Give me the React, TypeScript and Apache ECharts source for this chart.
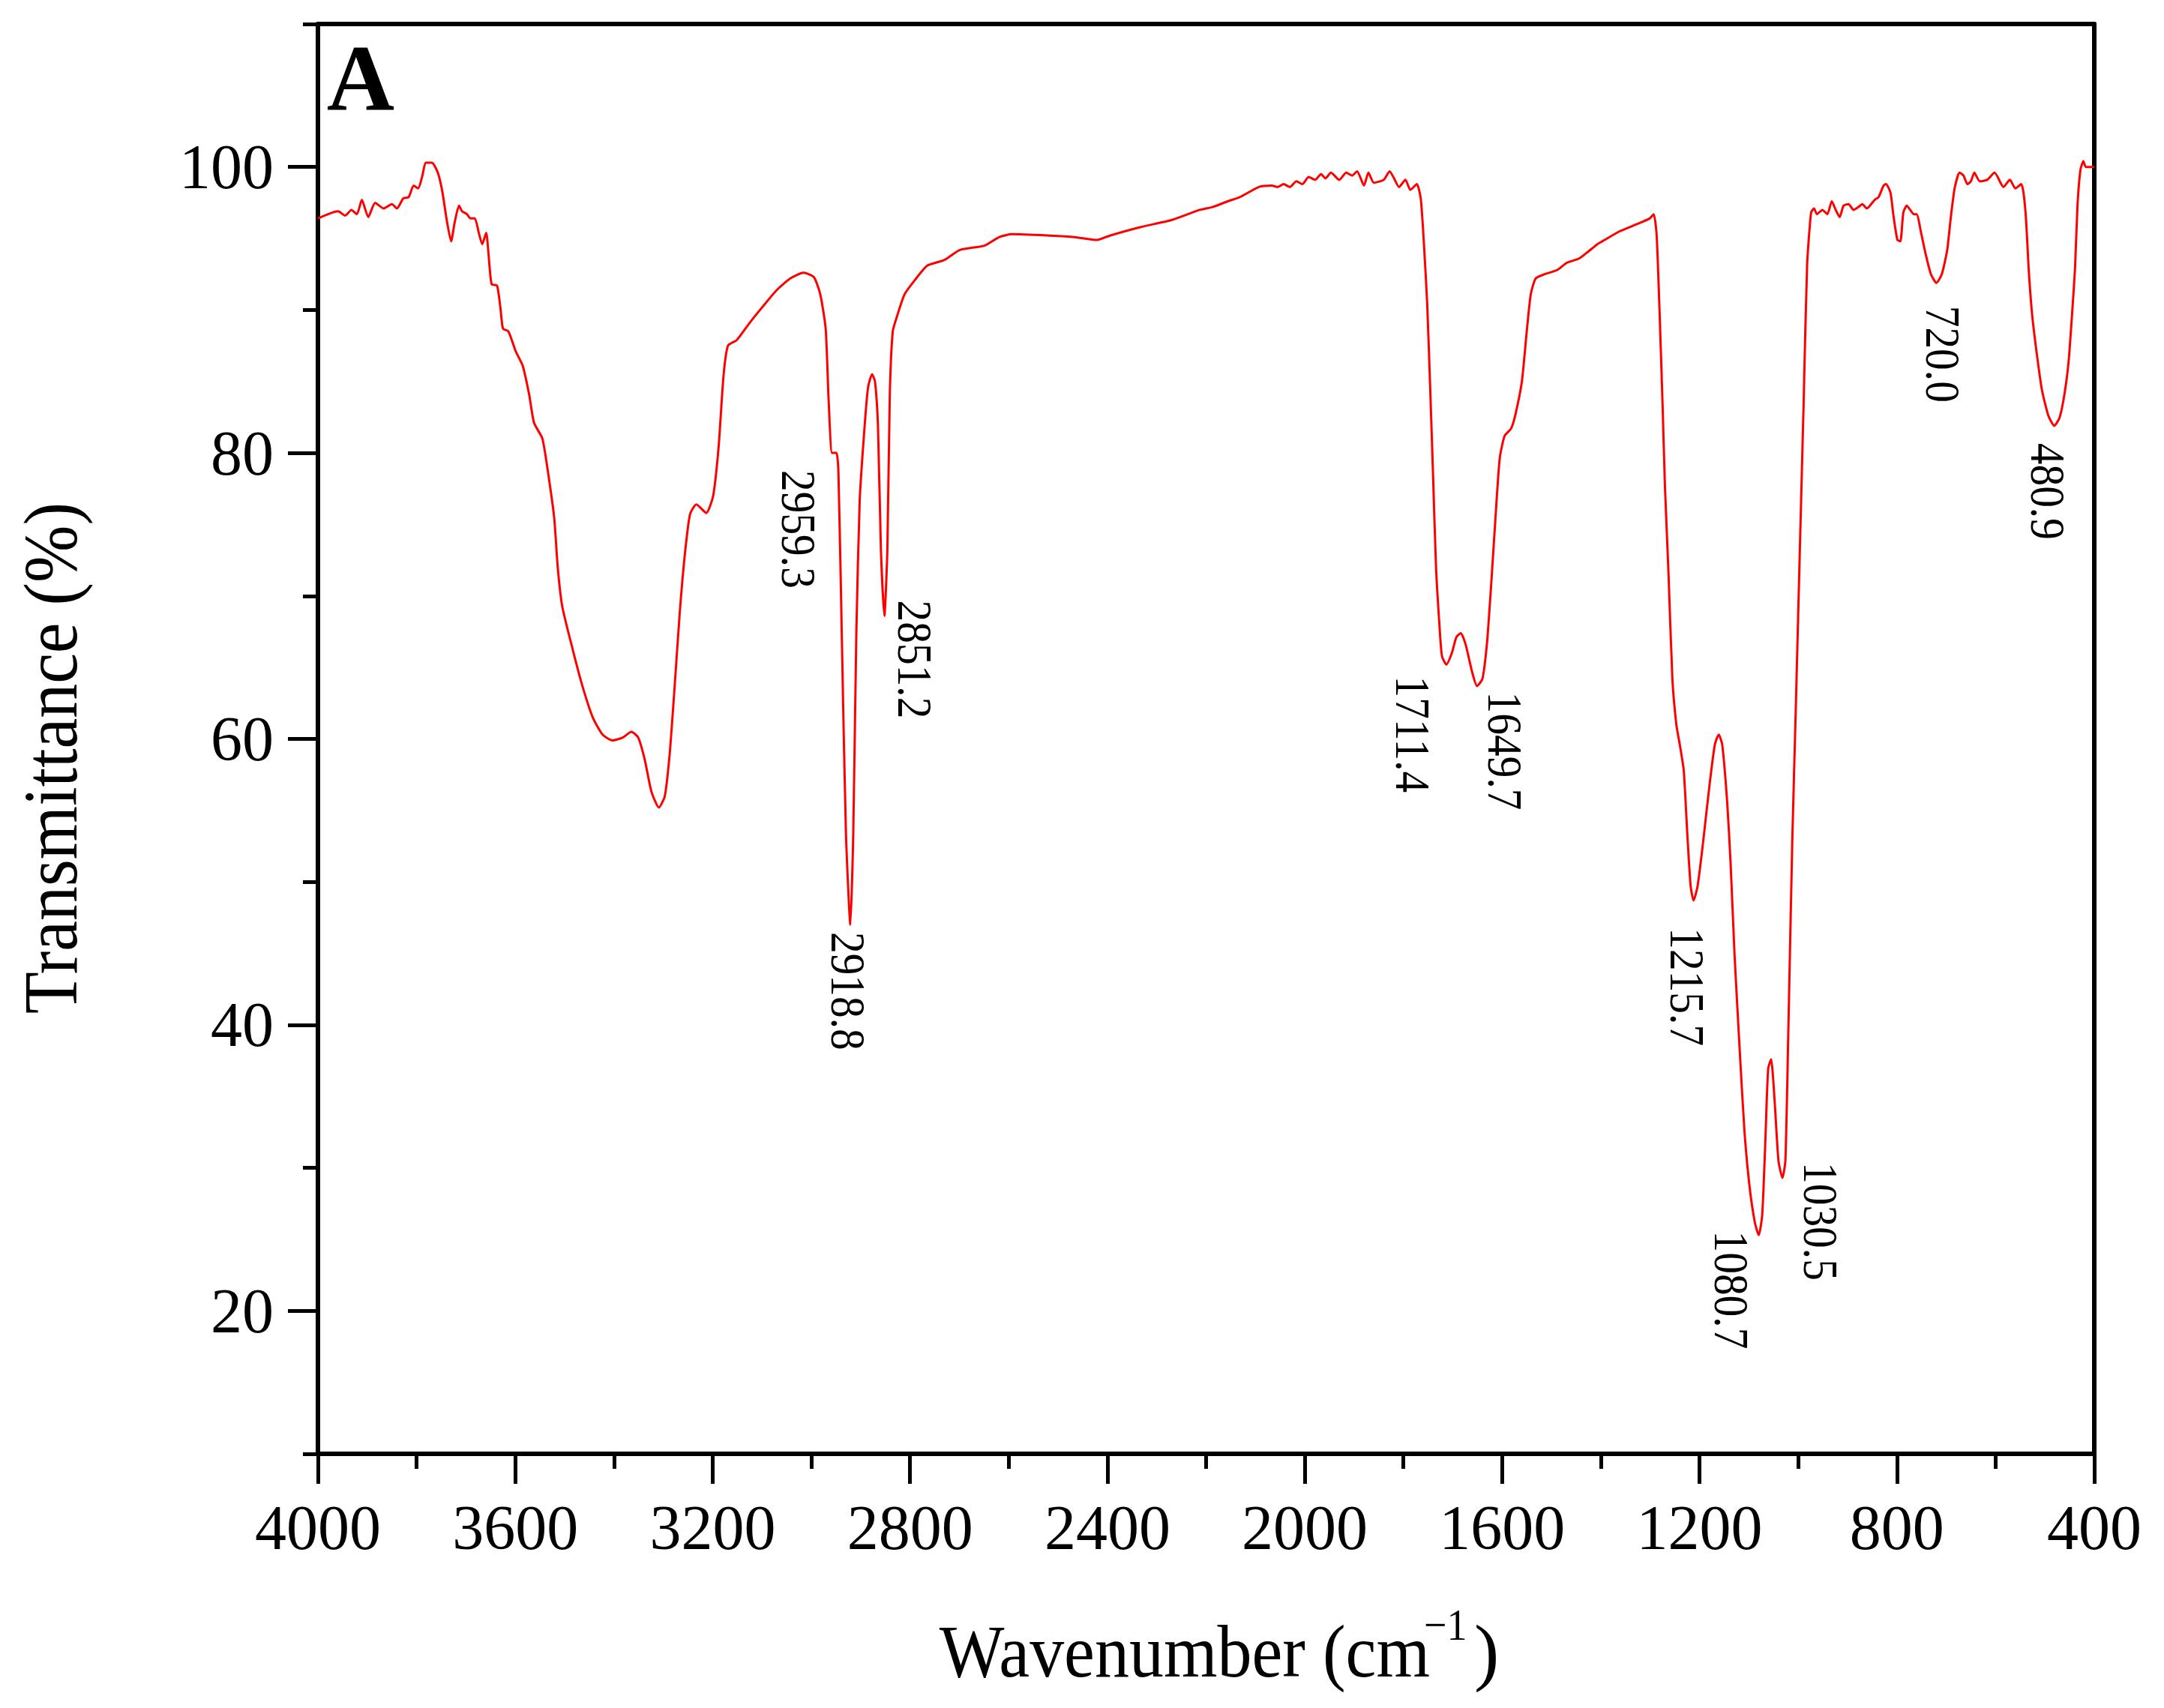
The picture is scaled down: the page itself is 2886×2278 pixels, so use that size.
import React, { useEffect, useRef } from "react";
import * as echarts from "echarts";

const FONT = "'Liberation Serif', 'Times New Roman', serif";

// Wavenumber (cm-1), high to low
const wavenumbers = [
  4000, 3959, 3945, 3932, 3921, 3911, 3898, 3884, 3867, 3850, 3840, 3827, 3816, 3806, 3797, 3789,
  3781, 3769, 3757, 3748, 3739, 3730, 3723, 3714, 3708, 3698, 3691, 3682, 3674, 3667, 3659, 3654,
  3648, 3637, 3630, 3625, 3614, 3599, 3585, 3572, 3562, 3545, 3531, 3521, 3514, 3505, 3484, 3464,
  3443, 3423, 3403, 3382, 3365, 3351, 3338, 3324, 3309, 3297, 3287, 3277, 3267, 3257, 3246, 3233,
  3213, 3199, 3188, 3178, 3169, 3151, 3125, 3097, 3070, 3043, 3016, 2995, 2982, 2971, 2965, 2958,
  2949, 2945, 2938, 2930, 2921, 2915, 2909, 2902, 2892, 2885, 2877, 2871, 2865, 2859, 2852, 2846,
  2841, 2835, 2826, 2811, 2790, 2765, 2730, 2699, 2649, 2619, 2593, 2517, 2467, 2421, 2395, 2332,
  2269, 2213, 2187, 2156, 2131, 2093, 2067, 2055, 2043, 2030, 2017, 2005, 1992, 1979, 1967, 1958,
  1947, 1930, 1916, 1904, 1894, 1880, 1871, 1860, 1840, 1828, 1819, 1809, 1796, 1786, 1773, 1765,
  1759, 1752, 1746, 1740, 1734, 1727, 1722, 1713, 1702, 1693, 1684, 1674, 1661, 1651, 1640, 1631,
  1623, 1614, 1605, 1595, 1582, 1573, 1560, 1551, 1542, 1532, 1514, 1488, 1469, 1444, 1425, 1407,
  1397, 1362, 1327, 1301, 1293, 1287, 1281, 1275, 1270, 1263, 1255, 1247, 1240, 1232, 1225, 1218,
  1212, 1204, 1194, 1180, 1169, 1161, 1154, 1144, 1137, 1129, 1119, 1109, 1099, 1088, 1080, 1073,
  1067, 1061, 1055, 1048, 1040, 1032, 1026, 1020, 1012, 1005, 997, 989, 982, 974, 968, 962,
  951, 941, 932, 924, 916, 908, 898, 888, 878, 870, 861, 845, 837, 827, 822, 813,
  807, 799, 793, 787, 780, 773, 766, 760, 751, 741, 731, 720, 709, 698, 691, 683,
  673, 665, 657, 650, 643, 632, 617, 602, 584, 571, 560, 548, 543, 538, 533, 526,
  516, 506, 493, 481, 470, 460, 452, 445, 439, 434, 428, 422, 417, 400,
];

// Transmittance (%), one value per wavenumber above
const transmittance = [
  96.4, 96.9, 96.6, 97.0, 96.7, 97.7, 96.5, 97.5, 97.1, 97.4, 97.1, 97.8, 97.9, 98.7, 98.5, 99.3,
  100.3, 100.3, 99.6, 98.3, 96.3, 94.8, 96.1, 97.3, 96.9, 96.7, 96.4, 96.4, 95.4, 94.6, 95.4, 93.8,
  91.8, 91.7, 90.1, 88.7, 88.5, 87.1, 86.1, 84.1, 82.1, 81.0, 78.0, 75.4, 72.0, 69.3, 66.3, 63.7,
  61.5, 60.3, 59.9, 60.1, 60.5, 60.1, 58.6, 56.3, 55.2, 56.0, 59.0, 63.7, 68.7, 72.7, 75.7, 76.4,
  75.8, 77.0, 80.4, 85.4, 87.5, 87.9, 89.1, 90.3, 91.4, 92.2, 92.6, 92.3, 91.1, 88.7, 83.7, 80.0,
  80.0, 78.5, 66.7, 53.5, 47.0, 53.5, 67.1, 76.7, 81.9, 84.6, 85.5, 85.0, 81.9, 73.2, 68.6, 73.2,
  84.1, 88.5, 89.6, 91.1, 92.1, 93.1, 93.5, 94.2, 94.5, 95.1, 95.3, 95.2, 95.1, 94.9, 95.2, 95.8,
  96.3, 97.0, 97.2, 97.6, 97.9, 98.6, 98.7, 98.6, 98.8, 98.6, 99.0, 98.8, 99.3, 99.1, 99.5, 99.2,
  99.6, 99.1, 99.6, 99.4, 99.7, 98.7, 99.6, 98.9, 99.1, 99.7, 99.2, 98.6, 99.1, 98.4, 98.8, 97.8,
  94.9, 90.5, 84.7, 78.4, 72.0, 67.9, 65.8, 65.2, 66.0, 67.1, 67.4, 66.6, 64.7, 63.7, 64.2, 66.6,
  70.4, 75.2, 79.6, 81.2, 81.7, 82.7, 85.0, 88.2, 91.1, 92.2, 92.5, 92.8, 93.3, 93.6, 94.1, 94.6,
  94.8, 95.5, 96.0, 96.4, 96.7, 95.3, 89.9, 83.5, 77.6, 71.7, 64.2, 61.0, 59.6, 57.8, 53.5, 49.7,
  48.7, 49.7, 52.4, 56.7, 59.6, 60.3, 59.6, 55.6, 51.3, 44.9, 38.5, 32.6, 28.8, 26.2, 25.3, 26.7,
  31.5, 36.9, 37.6, 34.8, 30.5, 29.3, 30.5, 39.6, 52.9, 62.0, 72.8, 83.5, 93.1, 96.8, 97.1, 96.7,
  97.0, 96.7, 97.6, 97.0, 96.5, 97.3, 97.4, 97.0, 97.2, 97.4, 97.1, 97.7, 97.9, 98.7, 98.8, 98.2,
  96.6, 94.9, 94.8, 96.8, 97.3, 97.0, 96.7, 96.7, 95.4, 93.8, 92.5, 91.9, 92.5, 94.2, 96.4, 98.5,
  99.6, 99.4, 98.8, 99.0, 99.6, 99.0, 99.1, 99.6, 98.6, 99.1, 98.5, 98.8, 98.1, 96.2, 92.9, 89.7,
  86.8, 84.4, 82.6, 81.9, 82.5, 84.2, 86.4, 89.7, 92.9, 97.3, 99.8, 100.4, 100.0, 100.0,
];

// Peak annotations and where each label starts (data coordinates)
const peakLabels = ["2959.3", "2918.8", "2851.2", "1711.4", "1649.7", "1215.7", "1080.7", "1030.5", "720.0", "480.9"];
const labelAnchorW = [3025, 2925, 2790, 1781, 1594, 1224, 1135, 954, 707, 494];
const labelAnchorT = [78.8, 46.5, 69.7, 64.4, 63.3, 46.8, 25.6, 30.4, 90.3, 80.7];

// Axis ticks
const yLabelValues = [20, 40, 60, 80, 100];
const xMin = 400;
const xMax = 4000;
const xStep = 400;
const yMin = 10;
const yMax = 110;
const yStep = 10;

export default function App() {
  const ref = useRef<HTMLDivElement>(null);

  useEffect(() => {
    document.body.style.margin = "0";
    const chart = echarts.init(ref.current as HTMLDivElement, null, { renderer: "svg" });
    const black = { color: "#000", width: 6 };
    const tickStyle = { color: "#000", width: 5 };

    const renderLabel = (params: any, api: any) => {
      const p = api.coord([api.value(0), api.value(1)]);
      return {
        type: "text",
        x: p[0],
        y: p[1],
        rotation: -Math.PI / 2,
        scaleX: 0.87,
        style: {
          text: peakLabels[params.dataIndex],
          fontSize: 66,
          fontFamily: FONT,
          fill: "#000",
          align: "left",
          verticalAlign: "middle",
          textAlign: "left",
          textVerticalAlign: "middle",
        },
      };
    };

    chart.setOption({
      animation: false,
      backgroundColor: "#ffffff",
      grid: { left: 424, top: 32, width: 2369, height: 1907, containLabel: false },
      xAxis: [
        {
          type: "value",
          min: xMin,
          max: xMax,
          interval: xStep,
          inverse: true,
          position: "bottom",
          axisLine: { show: true, onZero: false, lineStyle: black },
          axisTick: { show: true, length: 40, lineStyle: tickStyle },
          minorTick: { show: true, splitNumber: 2, length: 20, lineStyle: tickStyle },
          axisLabel: {
            show: true,
            margin: 56,
            fontSize: 84,
            fontFamily: FONT,
            color: "#000",
            showMinLabel: true,
            showMaxLabel: true,
            formatter: (v: number) => String(v),
          },
          splitLine: { show: false },
          minorSplitLine: { show: false },
        },
        {
          type: "value",
          min: xMin,
          max: xMax,
          inverse: true,
          position: "top",
          axisLine: { show: true, onZero: false, lineStyle: black },
          axisTick: { show: false },
          axisLabel: { show: false },
          splitLine: { show: false },
        },
      ],
      yAxis: [
        {
          type: "value",
          min: yMin,
          max: yMax,
          interval: yStep,
          position: "left",
          axisLine: { show: true, onZero: false, lineStyle: black },
          axisTick: { show: true, length: 40, customValues: yLabelValues, lineStyle: tickStyle },
          axisLabel: {
            show: true,
            customValues: yLabelValues,
            formatter: (v: number) => (yLabelValues.indexOf(v) >= 0 ? String(v) : ""),
            margin: 59,
            fontSize: 84,
            fontFamily: FONT,
            color: "#000",
            padding: [0, 0, 18, 0],
          },
          splitLine: { show: false },
        },
        {
          type: "value",
          min: yMin,
          max: yMax,
          interval: yStep,
          position: "left",
          axisLine: { show: false },
          axisTick: { show: true, length: 20, lineStyle: tickStyle },
          axisLabel: { show: false },
          splitLine: { show: false },
        },
        {
          type: "value",
          min: yMin,
          max: yMax,
          position: "right",
          axisLine: { show: true, onZero: false, lineStyle: black },
          axisTick: { show: false },
          axisLabel: { show: false },
          splitLine: { show: false },
        },
      ],
      series: [
        {
          type: "line",
          xAxisIndex: 0,
          yAxisIndex: 0,
          data: wavenumbers.map((w, i) => [w, transmittance[i]]),
          symbol: "none",
          showSymbol: false,
          smooth: 0.2,
          lineStyle: { color: "#ff0000", width: 3 },
          z: 3,
        },
        {
          type: "custom",
          xAxisIndex: 0,
          yAxisIndex: 0,
          data: labelAnchorW.map((w, i) => [w, labelAnchorT[i]]),
          encode: { x: 0, y: 1 },
          renderItem: renderLabel,
          clip: false,
          silent: true,
          z: 4,
        },
      ],
      graphic: [
        {
          type: "text",
          x: 481,
          y: 104,
          style: {
            text: "A",
            fontSize: 125,
            fontWeight: "bold",
            fontFamily: FONT,
            fill: "#000",
            align: "center",
            verticalAlign: "middle",
            textAlign: "center",
            textVerticalAlign: "middle",
          },
        },
        {
          type: "text",
          x: 68,
          y: 1011,
          rotation: Math.PI / 2,
          scaleX: 0.9,
          style: {
            text: "Transmittance (%)",
            fontSize: 102,
            fontFamily: FONT,
            fill: "#000",
            align: "center",
            verticalAlign: "middle",
            textAlign: "center",
            textVerticalAlign: "middle",
          },
        },
        {
          type: "text",
          x: 1907,
          y: 2202,
          scaleX: 0.92,
          style: {
            text: "Wavenumber (cm",
            fontSize: 100,
            fontFamily: FONT,
            fill: "#000",
            align: "right",
            verticalAlign: "middle",
            textAlign: "right",
            textVerticalAlign: "middle",
          },
        },
        {
          type: "text",
          x: 1899,
          y: 2167,
          scaleX: 0.9,
          style: {
            text: "\u22121",
            fontSize: 60,
            fontFamily: FONT,
            fill: "#000",
            align: "left",
            verticalAlign: "middle",
            textAlign: "left",
            textVerticalAlign: "middle",
          },
        },
        {
          type: "text",
          x: 1966,
          y: 2202,
          style: {
            text: ")",
            fontSize: 100,
            fontFamily: FONT,
            fill: "#000",
            align: "left",
            verticalAlign: "middle",
            textAlign: "left",
            textVerticalAlign: "middle",
          },
        },
      ],
    });

    return () => chart.dispose();
  }, []);

  return <div ref={ref} style={{ width: 2886, height: 2278 }} />;
}
